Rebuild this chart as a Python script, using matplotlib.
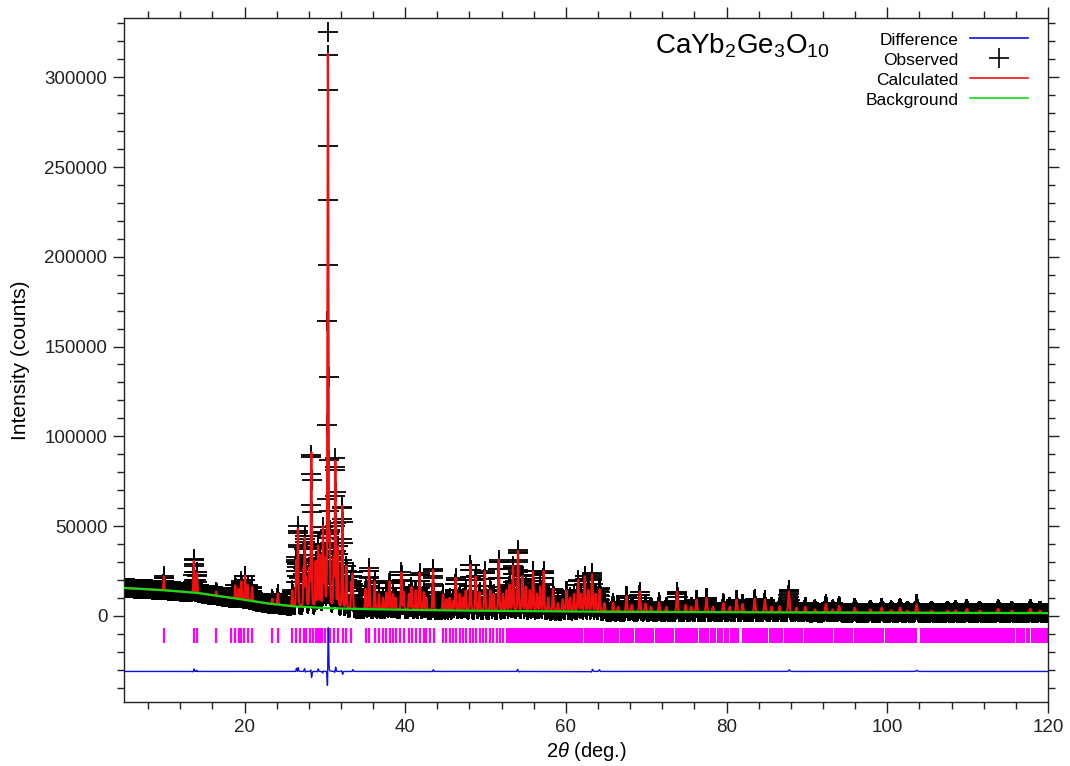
import numpy as np
import matplotlib
matplotlib.use('Agg')
import matplotlib.pyplot as plt
from matplotlib.ticker import MultipleLocator
from matplotlib.lines import Line2D

plt.rcParams['font.family'] = ['Liberation Sans', 'DejaVu Sans']
plt.rcParams['mathtext.fontset'] = 'custom'
plt.rcParams['mathtext.rm'] = 'Liberation Sans'
plt.rcParams['mathtext.it'] = 'Liberation Sans:italic'

# 2theta scan, 0.02 deg step
two_theta = np.arange(5.0, 120.001, 0.02)

# background knots (deg, counts)
bg_deg = [5, 8, 11, 14, 17, 20, 23, 26, 30, 35, 45, 62, 90, 120]
bg_cnt = [15500, 14800, 13900, 12800, 10900, 8900, 6800, 5300, 4300, 3700, 3000, 2300, 1800, 1500]

# calculated peak positions and peak tops (counts, incl. background)
peak_pos = [9.96, 13.69, 14.07, 16.48, 18.85, 19.27, 19.6, 20.07, 20.4, 20.94,
            23.45, 24.15, 25.94, 26.44, 26.64, 27.35, 27.5, 27.69, 28.1, 28.31,
            28.85, 29.14, 29.43, 29.76, 29.97, 30.38, 30.59, 31.09, 31.3, 31.63,
            32.17, 32.67, 33.29, 33.45, 35.07, 35.5, 36.2, 36.73, 37.23, 37.65,
            38.06, 38.48, 38.81, 39.52, 39.81, 40.47, 40.77, 41.3, 41.8, 42.3,
            42.63, 43.46, 44.7, 45.12, 45.53, 45.95, 46.28, 46.78, 47.19, 47.53,
            48.11, 48.77, 49.27, 49.9, 50.6, 51.0, 51.64, 52.17, 52.6, 53.0,
            53.42, 54.04, 54.59, 55.0, 55.5, 55.91, 56.4, 56.8, 57.24, 57.8,
            58.4, 59.0, 59.6, 60.07, 60.5, 61.0, 61.52, 61.9, 62.35, 62.8,
            63.26, 63.7, 64.2, 64.8, 65.87, 66.5, 67.54, 68.2, 69.2, 69.9,
            70.6, 71.6, 72.5, 73.84, 74.9, 75.6, 76.26, 77.5, 78.3, 79.6,
            80.4, 81.24, 82.0, 83.5, 84.76, 85.6, 86.6, 87.75, 88.7, 89.8,
            91.0, 92.36, 93.2, 94.0, 95.95, 97.9, 99.3, 100.5, 101.6, 102.5,
            103.65, 105.5, 107.5, 108.5, 109.9, 111.5, 113.8, 115.5, 117.8, 119.0]
peak_top = [22000, 31000, 24000, 13500, 17000, 15000, 19000, 22500, 17000, 16000,
            9500, 12500, 14000, 30000, 48000, 25000, 42000, 20000, 25000, 92000,
            30000, 38000, 33000, 48000, 30000, 312000, 40000, 30000, 85000, 38000,
            62000, 28000, 18000, 23000, 15000, 26500, 19000, 12000, 10000, 13000,
            19000, 12000, 10000, 24000, 13000, 12000, 16000, 14000, 23800, 13000,
            10000, 25600, 12000, 9000, 10000, 8000, 21000, 12000, 10000, 14000,
            28600, 22000, 13000, 24800, 14000, 12000, 31200, 12000, 14000, 17000,
            27500, 35800, 22000, 16000, 14000, 24800, 12000, 16000, 24800, 10000,
            15000, 7000, 9000, 14000, 10000, 12000, 19800, 12000, 21900, 14000,
            22800, 12000, 14500, 7000, 7400, 5000, 11100, 6000, 13500, 6700,
            5000, 7400, 5000, 13500, 6000, 5000, 9000, 10000, 5000, 7000,
            5000, 9000, 6500, 9500, 9000, 5000, 5200, 13500, 4500, 5000,
            3500, 6500, 3500, 5500, 4500, 3500, 4500, 3000, 4500, 2800,
            6200, 2800, 2800, 3000, 3800, 2800, 3800, 2800, 3800, 2800]

# peaks where observed differs from calculated (top counts, position shift)
mis_pos = [13.69, 14.07, 26.44, 26.64, 27.5, 28.31, 29.14, 29.76, 30.38,
           31.3, 32.17, 33.45, 43.46, 54.04, 63.26, 64.2, 87.75, 103.65]
mis_top = [32000, 24500, 31500, 49500, 43000, 90000, 39000, 47500, 325000,
           86500, 61000, 23800, 26300, 36500, 23500, 15300, 14300, 6800]
mis_shift = [0.003, -0.002, 0.002, 0.002, -0.002, -0.002, 0.002, 0.001, 0.0045,
             0.0015, -0.0015, 0.002, 0.002, -0.002, 0.004, -0.003, 0.003, 0.004]

# reflection markers (single lines, then overlapping bands)
refl_pos = [9.96, 13.69, 14.07, 16.48, 18.35, 18.85, 19.27, 19.6, 19.97, 20.4,
            20.94, 23.45, 24.15, 25.94, 26.44, 26.94, 27.35, 27.69, 28.1, 28.51,
            28.85, 29.14, 29.43, 29.68, 29.97, 30.59, 31.09, 31.63, 32.25, 32.67,
            33.29, 35.07, 35.49, 36.2, 36.73, 37.23, 37.65, 38.06, 38.48, 38.81,
            39.4, 39.81, 40.47, 40.89, 41.3, 41.89, 42.3, 42.63, 43.13, 43.54,
            44.7, 45.12, 45.53, 45.95, 46.28, 46.78, 47.19, 47.53, 48.11, 48.44,
            48.86, 49.27, 49.68, 50.1, 50.6, 50.93, 51.43, 51.85, 52.17]
band_start = [52.5, 62.2, 64.7, 66.77, 68.64, 71.13, 73.62, 76.53, 77.98, 78.81,
              79.64, 80.47, 81.9, 85.24, 87.11, 89.6, 93.34, 95.83, 99.77, 100.4,
              101.02, 104.1, 115.97, 117.21, 117.83]
band_end = [62.08, 64.58, 66.65, 68.52, 71.01, 73.5, 76.41, 77.86, 78.69, 79.52,
            80.35, 81.5, 85.12, 86.99, 89.48, 93.22, 95.71, 99.65, 100.28, 100.9,
            103.7, 115.85, 117.09, 117.71, 120.0]


def peak_width(p):
    return 0.10 + 0.0011 * (p - 5)


def pattern(x, pos, amp):
    y = np.zeros_like(x)
    for p, a in zip(pos, amp):
        w = peak_width(p)
        sel = np.abs(x - p) < 12 * w
        u = (x[sel] - p) / w
        y[sel] += a * (0.75 * np.exp(-4 * np.log(2) * u**2) + 0.25 / (1 + 4 * u**2))
    return y


background = np.interp(two_theta, bg_deg, bg_cnt)
bg_at_peak = np.interp(peak_pos, bg_deg, bg_cnt)
calc_amp = np.array(peak_top) - bg_at_peak
calculated = background + pattern(two_theta, peak_pos, calc_amp)

obs_pos = list(peak_pos)
obs_amp = list(calc_amp)
for p, t, s in zip(mis_pos, mis_top, mis_shift):
    i = peak_pos.index(p)
    obs_pos[i] = p + s
    obs_amp[i] = t - bg_at_peak[i]
observed = background + pattern(two_theta, obs_pos, obs_amp)
difference = observed - calculated - 31000

fig = plt.figure(figsize=(10.7, 7.66), dpi=100)
ax = fig.add_axes([0.1159, 0.0836, 0.8635, 0.8929])

ax.plot(two_theta, observed, ls='none', marker='+', ms=14, mew=1.3, color='black', zorder=2)
ax.plot(two_theta, calculated, color='#ee1111', lw=1.6, zorder=3)
ax.plot(two_theta, background, color='#11dd11', lw=1.6, zorder=4)
ax.plot(two_theta, difference, color='#1010dd', lw=1.0, zorder=3)

ax.vlines(refl_pos, -15000, -7000, color='#ff00ff', lw=1.6, zorder=2)
ax.broken_barh([(s, e - s) for s, e in zip(band_start, band_end)], (-15000, 8000),
               color='#ff00ff', lw=0, zorder=2)

ax.set_xlim(5, 120)
ax.set_ylim(-48000, 333000)
ax.xaxis.set_major_locator(MultipleLocator(20))
ax.xaxis.set_minor_locator(MultipleLocator(4))
ax.yaxis.set_major_locator(MultipleLocator(50000))
ax.yaxis.set_minor_locator(MultipleLocator(10000))
ax.ticklabel_format(axis='y', style='plain', useOffset=False)
ax.tick_params(which='both', direction='out', top=True, right=True, colors='#222222',
               labelsize=13.5, width=1.0)
ax.tick_params(which='major', length=8, pad=4)
ax.tick_params(which='minor', length=5)
for s in ax.spines.values():
    s.set_color('#222222')
    s.set_linewidth(1.0)

ax.set_xlabel(r'2$\theta$ (deg.)', fontsize=14.5, labelpad=3)
ax.set_ylabel('Intensity (counts)', fontsize=15, labelpad=10)

ax.text(0.575, 0.96, r'CaYb$_2$Ge$_3$O$_{10}$', transform=ax.transAxes,
        fontsize=20, va='center', ha='left')

handles = [Line2D([], [], color='#1010dd', lw=1.2),
           Line2D([], [], ls='none', marker='+', ms=14, mew=1.2, color='black'),
           Line2D([], [], color='#ee1111', lw=1.2),
           Line2D([], [], color='#11dd11', lw=1.2)]
labels = ['Difference', 'Observed', 'Calculated', 'Background']
ax.legend(handles, labels, loc='upper right', bbox_to_anchor=(0.978, 0.979),
          markerfirst=False, frameon=False, fontsize=12.5, handlelength=3.3,
          handletextpad=0.7, labelspacing=0.28, borderpad=0, borderaxespad=0)

fig.savefig('out.png', dpi=100)
